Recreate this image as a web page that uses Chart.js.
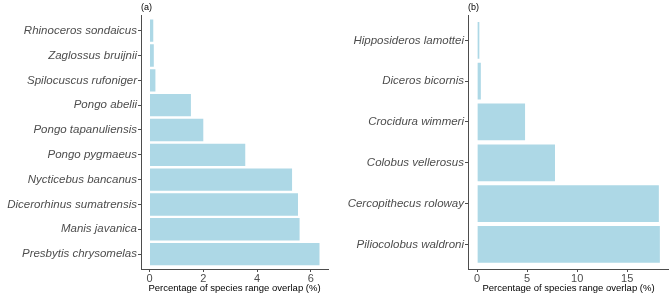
<!DOCTYPE html>
<html>
<head>
<meta charset="utf-8">
<script src="https://cdn.jsdelivr.net/npm/chart.js@4.4.1/dist/chart.umd.min.js"></script>
<style>
  body { margin: 0; background: #fff; }
  .wrap { display: flex; width: 669px; height: 297px; }
  canvas { display: block; }
</style>
</head>
<body>
<div class="wrap">
  <canvas id="chartA" width="335" height="297"></canvas>
  <canvas id="chartB" width="334" height="297"></canvas>
</div>
<script>
// panel (a)
const namesA = ['Rhinoceros sondaicus', 'Zaglossus bruijnii', 'Spilocuscus rufoniger', 'Pongo abelii',
  'Pongo tapanuliensis', 'Pongo pygmaeus', 'Nycticebus bancanus', 'Dicerorhinus sumatrensis',
  'Manis javanica', 'Presbytis chrysomelas'];
const valuesA = [0.14, 0.16, 0.22, 1.54, 2.0, 3.56, 5.30, 5.52, 5.58, 6.32];
const ticksA = [0, 2, 4, 6];

// panel (b)
const namesB = ['Hipposideros lamottei', 'Diceros bicornis', 'Crocidura wimmeri', 'Colobus vellerosus',
  'Cercopithecus roloway', 'Piliocolobus waldroni'];
const valuesB = [0.22, 0.37, 4.79, 7.78, 18.16, 18.26];
const ticksB = [0, 5, 10, 15];

const axisGrey = '#4d4d4d';
const textGrey = '#4d4d4d';

function makeChart(id, tag, names, values, xTicks, yWidth, rightPad) {
    // ggplot style expansion: 5% of range on x, 0.6 of a category on y
    const maxV = Math.max(...values);
    const ex = maxV * 0.05;

    new Chart(document.getElementById(id), {
        type: 'bar',
        data: {
            datasets: [{
                data: values.map((v, i) => ({ x: v, y: i })),
                backgroundColor: '#add8e6',
                borderWidth: 0,
                categoryPercentage: 1,
                barPercentage: 0.9
            }]
        },
        options: {
            indexAxis: 'y',
            responsive: false,
            animation: false,
            layout: { padding: { left: 0, right: rightPad, top: 0, bottom: 0 } },
            plugins: {
                legend: { display: false },
                tooltip: { enabled: false },
                title: {
                    display: true,
                    text: tag,
                    align: 'start',
                    fullSize: false,
                    color: '#000',
                    font: { family: 'Liberation Sans', size: 9, weight: 'normal' },
                    padding: { top: 2, bottom: 3 }
                }
            },
            scales: {
                x: {
                    type: 'linear',
                    bounds: 'data',
                    min: -ex,
                    max: maxV + ex,
                    afterBuildTicks: s => { s.ticks = xTicks.map(v => ({ value: v })); },
                    afterFit: s => { s.height = 28; },
                    grid: { display: true, drawOnChartArea: false, drawTicks: true, tickLength: 3, color: axisGrey },
                    border: { display: true, color: axisGrey, width: 1 },
                    ticks: {
                        color: textGrey,
                        padding: 0,
                        font: { family: 'Liberation Sans', size: 11 }
                    },
                    title: {
                        display: true,
                        text: 'Percentage of species range overlap (%)',
                        color: '#000',
                        font: { family: 'Liberation Sans', size: 9.5 },
                        padding: { top: 0, bottom: 3 }
                    }
                },
                y: {
                    type: 'linear',
                    bounds: 'data',
                    offset: false,
                    reverse: true,
                    min: -0.6,
                    max: names.length - 0.4,
                    afterBuildTicks: s => { s.ticks = names.map((n, i) => ({ value: i })); },
                    afterFit: s => { s.width = yWidth; },
                    grid: { display: true, offset: false, drawOnChartArea: false, drawTicks: true, tickLength: 3, color: axisGrey },
                    border: { display: true, color: axisGrey, width: 1 },
                    ticks: {
                        color: textGrey,
                        padding: 1,
                        autoSkip: false,
                        font: { family: 'Liberation Sans', size: 11.5, style: 'italic' },
                        callback: v => names[v]
                    }
                }
            }
        }
    });
}

makeChart('chartA', '(a)', namesA, valuesA, ticksA, 141, 7);
makeChart('chartB', '(b)', namesB, valuesB, ticksB, 133, 0);
</script>
</body>
</html>
